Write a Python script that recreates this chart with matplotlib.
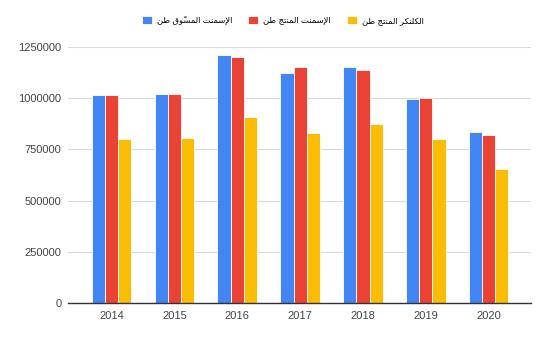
import numpy as np
import matplotlib.pyplot as plt

# values (tonnes)
YEARS = ["2014", "2015", "2016", "2017", "2018", "2019", "2020"]
CEMENT_SOLD = [1016000, 1023000, 1210000, 1125000, 1151000, 995000, 834000]
CEMENT_PRODUCED = [1016000, 1023000, 1200000, 1151000, 1138000, 1003000, 821000]
CLINKER_PRODUCED = [803000, 808000, 910000, 830000, 874000, 803000, 656000]

SERIES_NAMES = ["الإسمنت المسوّق طن", "الإسمنت المنتج طن", "الكلنكر المنتج طن"]
COLORS = ["#4285F4", "#EA4335", "#FBBC04"]
Y_TICKS = [0, 250000, 500000, 750000, 1000000, 1250000]

# presentation forms: (isolated, final, initial, medial)
FORMS = {
    "ا": ("\uFE8D", "\uFE8E", None, None),
    "إ": ("\uFE87", "\uFE88", None, None),
    "ل": ("\uFEDD", "\uFEDE", "\uFEDF", "\uFEE0"),
    "س": ("\uFEB1", "\uFEB2", "\uFEB3", "\uFEB4"),
    "م": ("\uFEE1", "\uFEE2", "\uFEE3", "\uFEE4"),
    "ن": ("\uFEE5", "\uFEE6", "\uFEE7", "\uFEE8"),
    "ت": ("\uFE95", "\uFE96", "\uFE97", "\uFE98"),
    "و": ("\uFEED", "\uFEEE", None, None),
    "ق": ("\uFED5", "\uFED6", "\uFED7", "\uFED8"),
    "ط": ("\uFEC1", "\uFEC2", "\uFEC3", "\uFEC4"),
    "ج": ("\uFE9D", "\uFE9E", "\uFE9F", "\uFEA0"),
    "ك": ("\uFED9", "\uFEDA", "\uFEDB", "\uFEDC"),
    "ر": ("\uFEAD", "\uFEAE", None, None),
    "لا": ("\uFEFB", "\uFEFC", None, None),
    "لإ": ("\uFEF9", "\uFEFA", None, None),
}
MARKS = "\u064B\u064C\u064D\u064E\u064F\u0650\u0651\u0652"


def shape_arabic(text):
    # matplotlib has no shaping/bidi, so do a tiny version of it by hand
    tokens = []
    i = 0
    while i < len(text):
        c = text[i]
        if c in MARKS and tokens:
            tokens[-1][1] += c
        elif c == "ل" and i + 1 < len(text) and text[i:i + 2] in FORMS:
            tokens.append([text[i:i + 2], ""])
            i += 1
        else:
            tokens.append([c, ""])
        i += 1
    out = []
    for k, (base, marks) in enumerate(tokens):
        if base not in FORMS:
            out.append(base + marks)
            continue
        prev = k > 0 and tokens[k - 1][0] in FORMS and FORMS[tokens[k - 1][0]][2] is not None
        nxt = (k + 1 < len(tokens) and tokens[k + 1][0] in FORMS
               and FORMS[base][2] is not None)
        iso, fin, ini, med = FORMS[base]
        if prev and nxt:
            g = med
        elif prev:
            g = fin
        elif nxt:
            g = ini
        else:
            g = iso
        out.append(g + marks)
    return "".join(reversed(out))


plt.rcParams["font.family"] = ["Liberation Sans", "DejaVu Sans"]

fig = plt.figure(figsize=(5.5, 3.41), dpi=100)
ax = fig.add_axes([0.124, 0.111, 0.841, 0.751])

x = np.arange(len(YEARS))
width = 0.21
for k, (vals, name, color) in enumerate(zip(
        [CEMENT_SOLD, CEMENT_PRODUCED, CLINKER_PRODUCED], SERIES_NAMES, COLORS)):
    ax.bar(x + (k - 1) * width, vals, width, color=color, edgecolor="white",
           linewidth=0.6, label=shape_arabic(name), zorder=3)

ax.set_xlim(-0.69, 6.67)
ax.set_ylim(0, 1250000)
ax.set_yticks(Y_TICKS)
ax.set_yticklabels([str(v) for v in Y_TICKS])
ax.set_xticks(x)
ax.set_xticklabels(YEARS)
ax.tick_params(axis="both", length=0, labelsize=8, colors="#444444")
ax.tick_params(axis="y", pad=5)
ax.tick_params(axis="x", pad=6)

ax.grid(axis="y", color="#d9d9d9", linewidth=0.8, zorder=0)
for side in ["top", "right", "left"]:
    ax.spines[side].set_visible(False)
ax.spines["bottom"].set_color("#333333")
ax.spines["bottom"].set_linewidth(1.0)
ax.spines["bottom"].set_zorder(4)

fig.legend(loc="center", bbox_to_anchor=(0.514, 0.94), ncol=3, frameon=False,
           fontsize=6, handlelength=1.2, handleheight=1.2, handletextpad=0.6,
           columnspacing=1.9)

fig.savefig("out.png", dpi=100)
